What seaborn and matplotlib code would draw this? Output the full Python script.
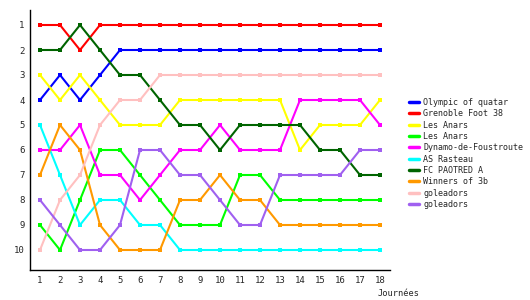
import matplotlib
matplotlib.use("Agg")
import matplotlib.pyplot as plt
import seaborn as sns
import pandas as pd
from matplotlib.lines import Line2D

rounds = list(range(1, 19))
teams = ["Olympic of quatar", "Grenoble Foot 38", "Les Anars", "Les Anars",
         "Dynamo-de-Foustroute", "AS Rasteau", "FC PAOTRED A", "Winners of 3b",
         "goleadors", "goleadors"]
colors = ["#0000ff", "#ff0000", "#ffff00", "#00ff00", "#ff00ff", "#00ffff",
          "#006400", "#ff9900", "#ffc0c0", "#a060f0"]

olympic = [4, 3, 4, 3, 2, 2, 2, 2, 2, 2, 2, 2, 2, 2, 2, 2, 2, 2]
grenoble = [1, 1, 2, 1, 1, 1, 1, 1, 1, 1, 1, 1, 1, 1, 1, 1, 1, 1]
anars1 = [3, 4, 3, 4, 5, 5, 5, 4, 4, 4, 4, 4, 4, 6, 5, 5, 5, 4]
anars2 = [9, 10, 8, 6, 6, 7, 8, 9, 9, 9, 7, 7, 8, 8, 8, 8, 8, 8]
dynamo = [6, 6, 5, 7, 7, 8, 7, 6, 6, 5, 6, 6, 6, 4, 4, 4, 4, 5]
rasteau = [5, 7, 9, 8, 8, 9, 9, 10, 10, 10, 10, 10, 10, 10, 10, 10, 10, 10]
paotred = [2, 2, 1, 2, 3, 3, 4, 5, 5, 6, 5, 5, 5, 5, 6, 6, 7, 7]
winners = [7, 5, 6, 9, 10, 10, 10, 8, 8, 7, 8, 8, 9, 9, 9, 9, 9, 9]
goleadors1 = [10, 8, 7, 5, 4, 4, 3, 3, 3, 3, 3, 3, 3, 3, 3, 3, 3, 3]
goleadors2 = [8, 9, 10, 10, 9, 6, 6, 7, 7, 8, 9, 9, 7, 7, 7, 7, 6, 6]

series = [olympic, grenoble, anars1, anars2, dynamo, rasteau, paotred,
          winners, goleadors1, goleadors2]

rows = []
for i, vals in enumerate(series):
    for r, v in zip(rounds, vals):
        rows.append({"key": f"s{i}", "round": r, "rank": v})
df = pd.DataFrame(rows)
keys = [f"s{i}" for i in range(len(series))]
palette = dict(zip(keys, colors))

sns.set_style("white")
plt.rcParams["font.family"] = ["DejaVu Sans Mono", "DejaVu Sans"]

fig = plt.figure(figsize=(5.3, 3.0), dpi=100)
ax = fig.add_axes([30 / 530, 30 / 300, 360 / 530, 260 / 300])

sns.lineplot(data=df, x="round", y="rank", hue="key", hue_order=keys,
             palette=palette, marker="s", markersize=3.5, markeredgewidth=0,
             linewidth=1.5, legend=False, ax=ax)

ax.set_xlim(0.5, 18.5)
ax.set_ylim(10.8, 0.4)
ax.set_xticks(rounds)
ax.set_xticklabels([str(r) for r in rounds], fontsize=6.5)
ax.set_yticks(range(1, 11))
ax.set_yticklabels([str(v) for v in range(1, 11)], fontsize=6.5)
ax.tick_params(axis="both", length=0, pad=4)
ax.set_xlabel("")
ax.set_ylabel("")
for s in ["top", "right"]:
    ax.spines[s].set_visible(False)
for s in ["left", "bottom"]:
    ax.spines[s].set_color("black")
    ax.spines[s].set_linewidth(1.0)
ax.grid(False)

fig.text(378 / 530, 1 - 293 / 300, "Journées", fontsize=6.2, ha="left", va="center")

handles = [Line2D([0], [0], color=c, lw=2.5) for c in colors]
fig.legend(handles, teams, loc="upper left", bbox_to_anchor=(409 / 530, 1 - 98 / 300),
           frameon=False, fontsize=6.0, handlelength=1.2, handletextpad=0.5,
           labelspacing=0.28, borderpad=0, borderaxespad=0)

fig.savefig("out.png", dpi=100)
